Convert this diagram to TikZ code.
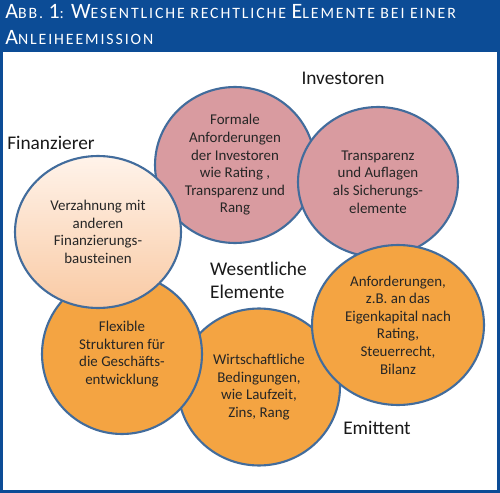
\documentclass[tikz,border=0pt]{standalone}
\usepackage{fontspec}
\setmainfont{Carlito}
\usetikzlibrary{shapes.geometric}

\definecolor{kopfblau}{RGB}{12,76,150}
\definecolor{randblau}{RGB}{66,108,156}
\definecolor{rosa}{RGB}{217,155,160}
\definecolor{orange}{RGB}{244,164,66}
\definecolor{pfirsichhell}{RGB}{255,243,234}
\definecolor{pfirsich}{RGB}{249,202,164}

% Kapitaelchen von Hand
\newcommand\kapit[1]{{\fontsize{12.5}{12.5}\selectfont #1}}

\begin{document}
\begin{tikzpicture}[x=0.02cm, y=-0.02cm,
    element/.style={ellipse, draw=randblau, line width=1.2pt, text=black!85,
      align=center, inner sep=0pt, font=\fontsize{8.5}{10}\selectfont},
    gruppe/.style={font=\fontsize{11}{13}\selectfont, text=black!90}]
  \useasboundingbox (0,0) rectangle (500,493);
  % Rahmen und Kopfzeile
  \fill[white] (0,0) rectangle (500,493);
  \fill[kopfblau] (0,0) rectangle (500,52);
  \draw[kopfblau, line width=1.6pt] (1.5,1.5) rectangle (498.5,491.5);
  \node[anchor=base west, text=white, align=left, inner sep=0pt,
    font=\fontsize{9}{15.3}\addfontfeature{LetterSpace=12}\selectfont]
    (titel) at (5,45)
    {\kapit{A}BB. \kapit{1}: \kapit{W}ESENTLICHE RECHTLICHE \kapit{E}LEMENTE BEI EINER\\
     \kapit{A}NLEIHEEMISSION};

  % Investoren
  \node[element, fill=rosa, minimum width=3.2cm, minimum height=3.12cm] (formal) at (235,165)
    {Formale\\Anforderungen\\der Investoren\\wie Rating ,\\Transparenz und\\Rang};
  \node[element, fill=rosa, minimum width=3.2cm, minimum height=3cm] (transp) at (378,182)
    {Transparenz\\und Auflagen\\als Sicherungs-\\elemente};
  % Emittent
  \node[element, fill=orange, minimum width=3.24cm, minimum height=3.14cm] (wirtsch) at (259,387)
    {Wirtschaftliche\\Bedingungen,\\wie Laufzeit,\\Zins, Rang};
  \node[element, fill=orange, minimum width=3.2cm, minimum height=3.2cm] (flex) at (122,354)
    {Flexible\\Strukturen f\"ur\\die Gesch\"afts-\\entwicklung};
  % Finanzierer
  \node[element, top color=pfirsichhell, bottom color=pfirsich, minimum width=3.32cm,
    minimum height=3.04cm] (verzahn) at (98,232)
    {Verzahnung mit\\anderen\\Finanzierungs-\\bausteinen};
  \node[element, fill=orange, minimum width=3.44cm, minimum height=3.2cm] (anford) at (398,325)
    {Anforderungen,\\z.B. an das\\Eigenkapital nach\\Rating,\\Steuerrecht,\\Bilanz};

  % Beschriftungen
  \node[gruppe] (investoren) at (343,78) {Investoren};
  \node[gruppe] (finanzierer) at (51,143) {Finanzierer};
  \node[gruppe] (emittent) at (377,428) {Emittent};
  \node[gruppe, align=left, anchor=west] (wesentlich) at (204,280) {Wesentliche\\Elemente};
\end{tikzpicture}
\end{document}
